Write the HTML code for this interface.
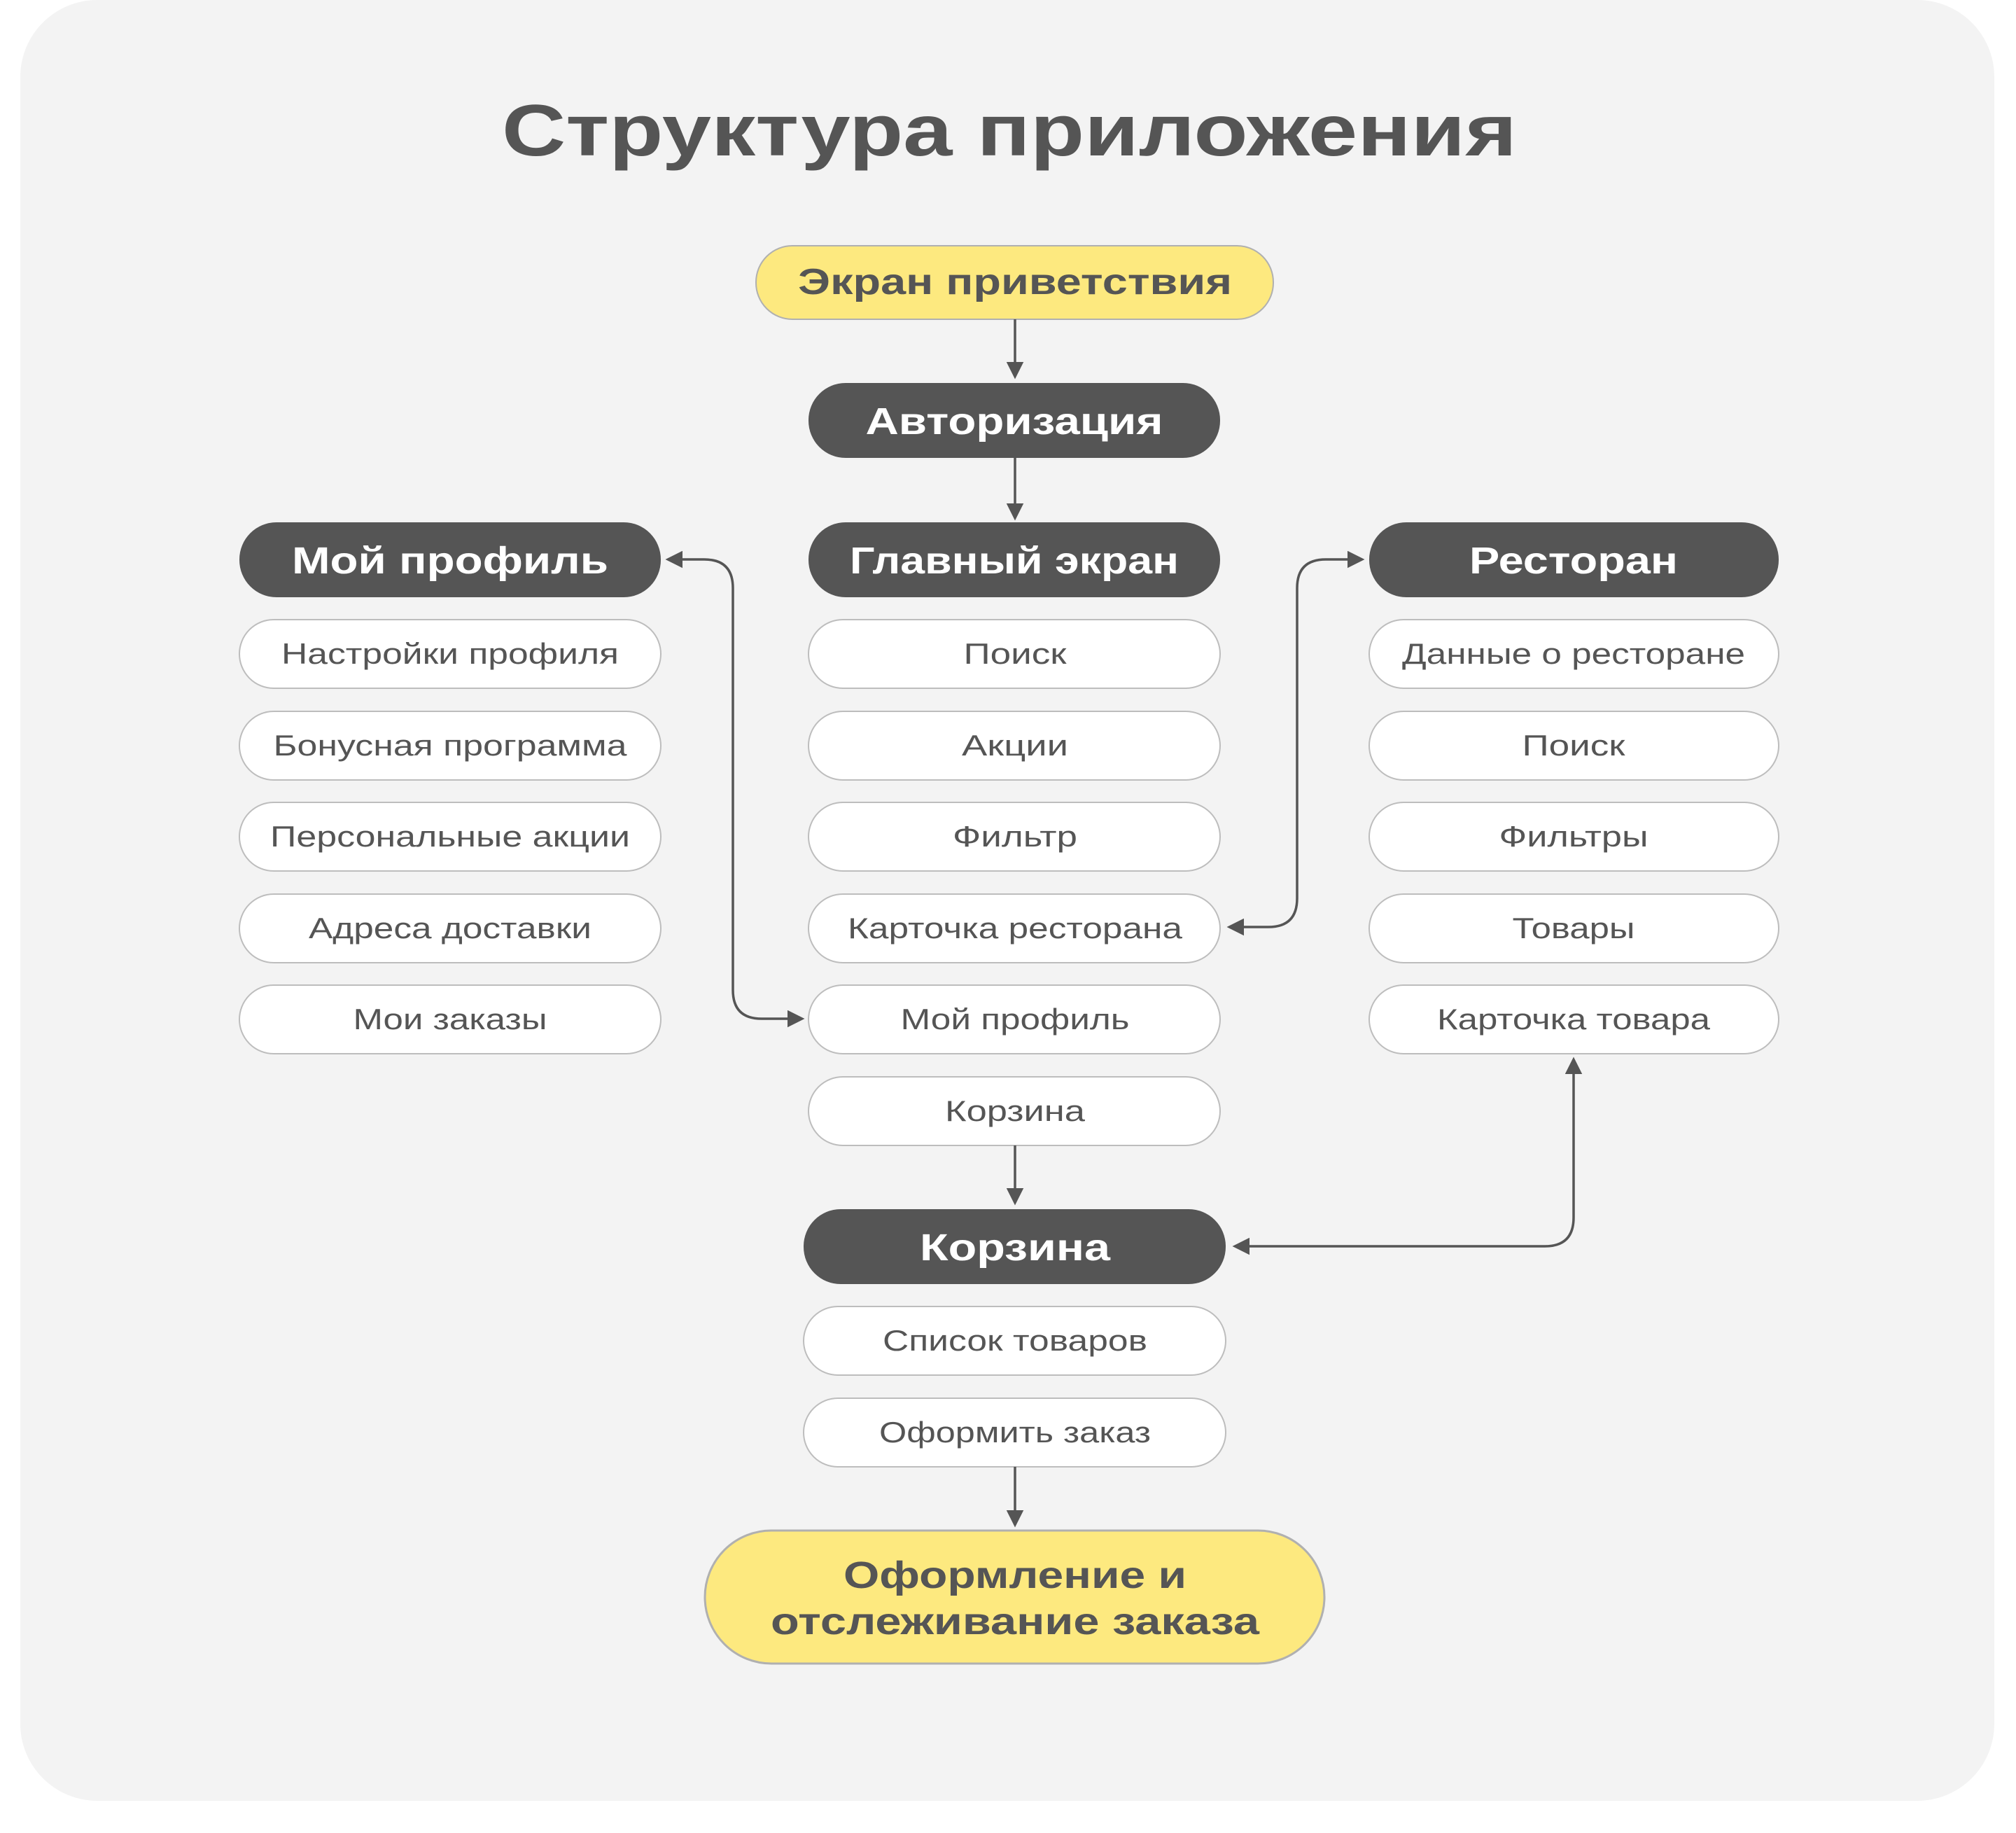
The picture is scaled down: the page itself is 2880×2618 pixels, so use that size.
<!DOCTYPE html>
<html><head><meta charset="utf-8"><style>
html,body{margin:0;padding:0;background:#fff;}
svg{display:block;}
text{font-family:"Liberation Sans",sans-serif;fill:#555;}
.h{font-weight:bold;font-size:54px;fill:#fff;}
.i{font-size:42px;}
</style></head><body>
<svg width="2880" height="2618" viewBox="0 0 2880 2618" xmlns="http://www.w3.org/2000/svg">
<defs>
<marker id="a" markerWidth="7" markerHeight="7" refX="6" refY="3.5" orient="auto-start-reverse" markerUnits="strokeWidth">
<path d="M0,0 L7,3.5 L0,7 Z" fill="#555"/></marker>
</defs>
<rect x="29" y="0" width="2820" height="2572" rx="110" fill="#f3f3f3"/>
<text x="1442" y="222" text-anchor="middle" font-weight="bold" font-size="104" textLength="1450" lengthAdjust="spacingAndGlyphs">Структура приложения</text>

<rect x="1080" y="351" width="739" height="105" rx="52" fill="#fde97f" stroke="#b0b0b0" stroke-width="2"/>
<text x="1450" y="420" text-anchor="middle" font-weight="bold" font-size="52" textLength="620" lengthAdjust="spacingAndGlyphs">Экран приветствия</text>

<rect x="1155" y="547" width="588" height="107" rx="53" fill="#555"/>
<text class="h" x="1449" y="620" text-anchor="middle" textLength="425" lengthAdjust="spacingAndGlyphs">Авторизация</text>

<rect x="342" y="746" width="602" height="107" rx="53" fill="#555"/>
<text class="h" x="643" y="819" text-anchor="middle" textLength="452" lengthAdjust="spacingAndGlyphs">Мой профиль</text>
<rect x="1155" y="746" width="588" height="107" rx="53" fill="#555"/>
<text class="h" x="1449" y="819" text-anchor="middle" textLength="470" lengthAdjust="spacingAndGlyphs">Главный экран</text>
<rect x="1956" y="746" width="585" height="107" rx="53" fill="#555"/>
<text class="h" x="2248" y="819" text-anchor="middle" textLength="298" lengthAdjust="spacingAndGlyphs">Ресторан</text>

<g fill="#fff" stroke="#bdbdbd" stroke-width="2">
<rect x="342" y="885" width="602" height="98" rx="49"/>
<rect x="342" y="1016" width="602" height="98" rx="49"/>
<rect x="342" y="1146" width="602" height="98" rx="49"/>
<rect x="342" y="1277" width="602" height="98" rx="49"/>
<rect x="342" y="1407" width="602" height="98" rx="49"/>

<rect x="1155" y="885" width="588" height="98" rx="49"/>
<rect x="1155" y="1016" width="588" height="98" rx="49"/>
<rect x="1155" y="1146" width="588" height="98" rx="49"/>
<rect x="1155" y="1277" width="588" height="98" rx="49"/>
<rect x="1155" y="1407" width="588" height="98" rx="49"/>
<rect x="1155" y="1538" width="588" height="98" rx="49"/>

<rect x="1956" y="885" width="585" height="98" rx="49"/>
<rect x="1956" y="1016" width="585" height="98" rx="49"/>
<rect x="1956" y="1146" width="585" height="98" rx="49"/>
<rect x="1956" y="1277" width="585" height="98" rx="49"/>
<rect x="1956" y="1407" width="585" height="98" rx="49"/>

<rect x="1148" y="1866" width="603" height="98" rx="49"/>
<rect x="1148" y="1997" width="603" height="98" rx="49"/>
</g>

<g text-anchor="middle">
<text class="i" x="643" y="948" textLength="482" lengthAdjust="spacingAndGlyphs">Настройки профиля</text>
<text class="i" x="643" y="1079" textLength="505" lengthAdjust="spacingAndGlyphs">Бонусная программа</text>
<text class="i" x="643" y="1209" textLength="514" lengthAdjust="spacingAndGlyphs">Персональные акции</text>
<text class="i" x="643" y="1340" textLength="404" lengthAdjust="spacingAndGlyphs">Адреса доставки</text>
<text class="i" x="643" y="1470" textLength="277" lengthAdjust="spacingAndGlyphs">Мои заказы</text>

<text class="i" x="1450" y="948" textLength="147" lengthAdjust="spacingAndGlyphs">Поиск</text>
<text class="i" x="1450" y="1079" textLength="152" lengthAdjust="spacingAndGlyphs">Акции</text>
<text class="i" x="1450" y="1209" textLength="178" lengthAdjust="spacingAndGlyphs">Фильтр</text>
<text class="i" x="1450" y="1340" textLength="478" lengthAdjust="spacingAndGlyphs">Карточка ресторана</text>
<text class="i" x="1450" y="1470" textLength="327" lengthAdjust="spacingAndGlyphs">Мой профиль</text>
<text class="i" x="1450" y="1601" textLength="200" lengthAdjust="spacingAndGlyphs">Корзина</text>

<text class="i" x="2248" y="948" textLength="490" lengthAdjust="spacingAndGlyphs">Данные о ресторане</text>
<text class="i" x="2248" y="1079" textLength="147" lengthAdjust="spacingAndGlyphs">Поиск</text>
<text class="i" x="2248" y="1209" textLength="213" lengthAdjust="spacingAndGlyphs">Фильтры</text>
<text class="i" x="2248" y="1340" textLength="175" lengthAdjust="spacingAndGlyphs">Товары</text>
<text class="i" x="2248" y="1470" textLength="390" lengthAdjust="spacingAndGlyphs">Карточка товара</text>

<text class="i" x="1450" y="1929" textLength="378" lengthAdjust="spacingAndGlyphs">Список товаров</text>
<text class="i" x="1450" y="2060" textLength="388" lengthAdjust="spacingAndGlyphs">Оформить заказ</text>
</g>

<rect x="1148" y="1727" width="603" height="107" rx="53" fill="#555"/>
<text class="h" x="1450" y="1800" text-anchor="middle" textLength="272" lengthAdjust="spacingAndGlyphs">Корзина</text>

<rect x="1007" y="2186" width="885" height="190" rx="95" fill="#fde97f" stroke="#b0b0b0" stroke-width="3"/>
<text x="1450" y="2268" text-anchor="middle" font-weight="bold" font-size="54" textLength="490" lengthAdjust="spacingAndGlyphs">Оформление и</text>
<text x="1450" y="2334" text-anchor="middle" font-weight="bold" font-size="54" textLength="698" lengthAdjust="spacingAndGlyphs">отслеживание заказа</text>

<g stroke="#555" stroke-width="3.5" fill="none">
<path d="M1450 456 V538" marker-end="url(#a)"/>
<path d="M1450 654 V740" marker-end="url(#a)"/>
<path d="M1450 1636 V1718" marker-end="url(#a)"/>
<path d="M1450 2095 V2178" marker-end="url(#a)"/>
<path d="M1146 1455 H1088 Q1047 1455 1047 1414 V840 Q1047 799 1006 799 H954" marker-end="url(#a)" marker-start="url(#a)"/>
<path d="M1756 1324 H1812 Q1853 1324 1853 1283 V840 Q1853 799 1894 799 H1946" marker-end="url(#a)" marker-start="url(#a)"/>
<path d="M1764 1780 H2207 Q2248 1780 2248 1739 V1513" marker-end="url(#a)" marker-start="url(#a)"/>
</g>
</svg>
</body></html>
